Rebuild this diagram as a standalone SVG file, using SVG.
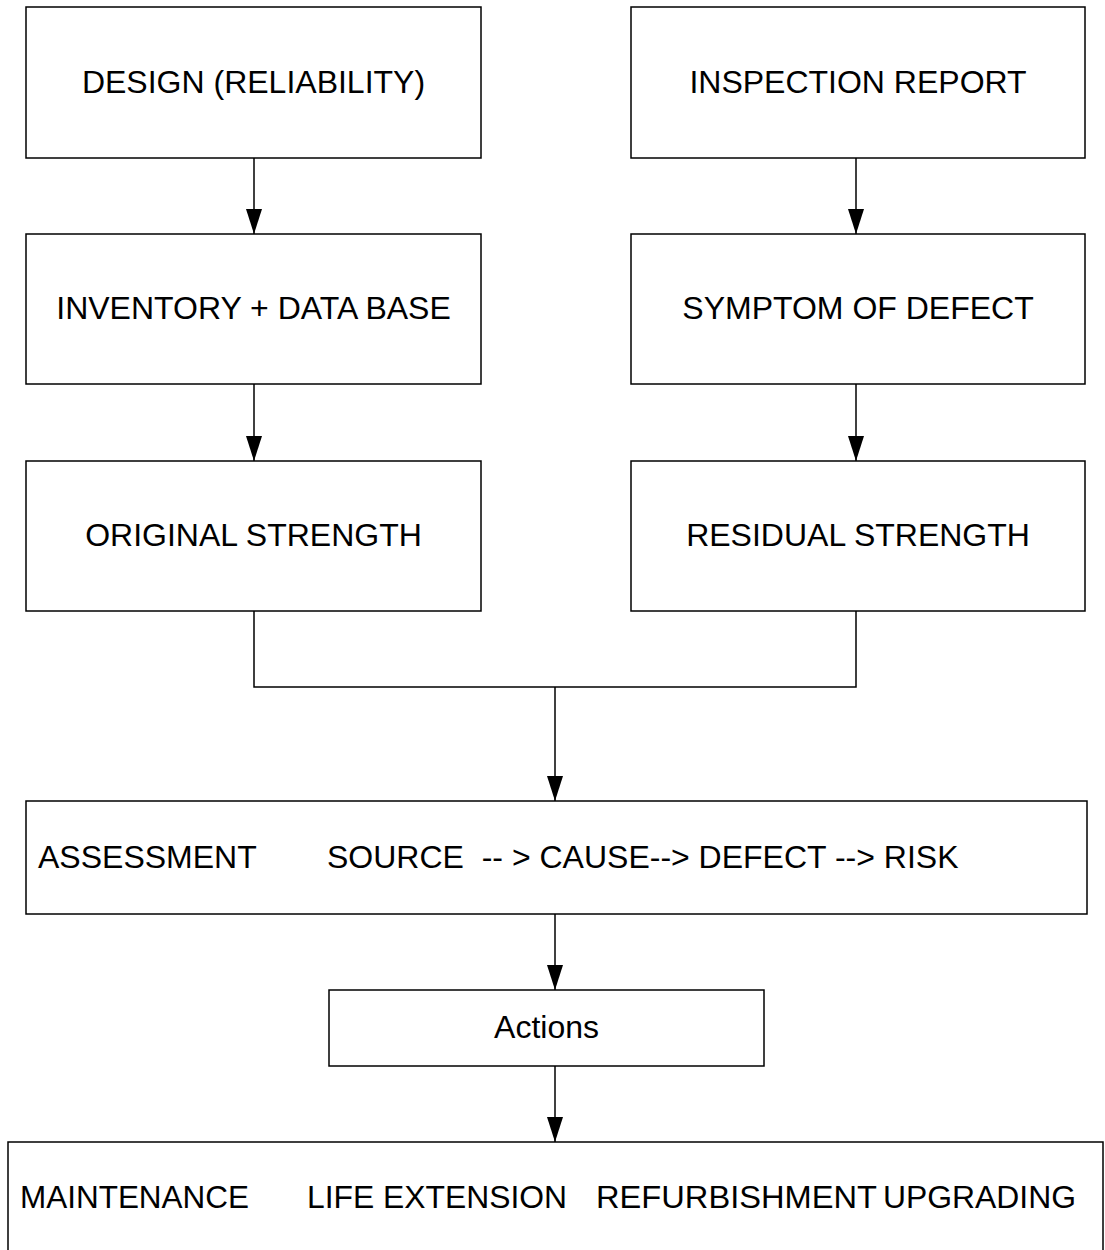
<svg xmlns="http://www.w3.org/2000/svg" width="1105" height="1250" viewBox="0 0 1105 1250">
<style>
.box{fill:#fff;stroke:#000;stroke-width:1.5}
.t{font-family:"Liberation Sans",Arial,sans-serif;font-size:32px;fill:#000}
.m{text-anchor:middle}
.c{fill:none;stroke:#000;stroke-width:1.5}
</style>
<defs>
<marker id="ah" markerUnits="userSpaceOnUse" markerWidth="25" markerHeight="16" refX="25" refY="8" orient="auto" viewBox="0 0 25 16">
<path d="M0,0 L25,8 L0,16 Z" fill="#000"/>
</marker>
</defs>
<rect width="1105" height="1250" fill="#fff"/>
<g id="n-design"><rect class="box" x="26" y="7" width="455" height="151"/><text class="t m" x="253.5" y="93">DESIGN (RELIABILITY)</text></g>
<g id="n-inspection"><rect class="box" x="631" y="7" width="454" height="151"/><text class="t m" x="858" y="93">INSPECTION REPORT</text></g>
<g id="n-inventory"><rect class="box" x="26" y="234" width="455" height="150"/><text class="t m" x="253.5" y="319">INVENTORY + DATA BASE</text></g>
<g id="n-symptom"><rect class="box" x="631" y="234" width="454" height="150"/><text class="t m" x="858" y="319">SYMPTOM OF DEFECT</text></g>
<g id="n-original"><rect class="box" x="26" y="461" width="455" height="150"/><text class="t m" x="253.5" y="546">ORIGINAL STRENGTH</text></g>
<g id="n-residual"><rect class="box" x="631" y="461" width="454" height="150"/><text class="t m" x="858" y="546">RESIDUAL STRENGTH</text></g>
<g id="n-assessment"><rect class="box" x="26" y="801" width="1061" height="113"/><text class="t" x="38" y="868">ASSESSMENT</text><text class="t" x="327" y="868" xml:space="preserve">SOURCE  -- &gt; CAUSE--&gt; DEFECT --&gt; RISK</text></g>
<g id="n-actions"><rect class="box" x="329" y="990" width="435" height="76"/><text class="t m" x="546.5" y="1038">Actions</text></g>
<g id="n-outcomes"><rect class="box" x="8" y="1142" width="1095" height="130"/><text class="t" x="20" y="1208" textLength="229" lengthAdjust="spacingAndGlyphs">MAINTENANCE</text><text class="t" x="307" y="1208" textLength="260" lengthAdjust="spacingAndGlyphs">LIFE EXTENSION</text><text class="t" x="596" y="1208" textLength="281" lengthAdjust="spacingAndGlyphs">REFURBISHMENT</text><text class="t" x="883" y="1208" textLength="193" lengthAdjust="spacingAndGlyphs">UPGRADING</text></g>
<g id="connectors">
<line class="c" x1="254" y1="158" x2="254" y2="234" marker-end="url(#ah)"/>
<line class="c" x1="254" y1="384" x2="254" y2="461" marker-end="url(#ah)"/>
<line class="c" x1="856" y1="158" x2="856" y2="234" marker-end="url(#ah)"/>
<line class="c" x1="856" y1="384" x2="856" y2="461" marker-end="url(#ah)"/>
<polyline class="c" points="254,611 254,687 856,687 856,611"/>
<line class="c" x1="555" y1="687" x2="555" y2="801" marker-end="url(#ah)"/>
<line class="c" x1="555" y1="914" x2="555" y2="990" marker-end="url(#ah)"/>
<line class="c" x1="555" y1="1066" x2="555" y2="1142" marker-end="url(#ah)"/>
</g>
</svg>
